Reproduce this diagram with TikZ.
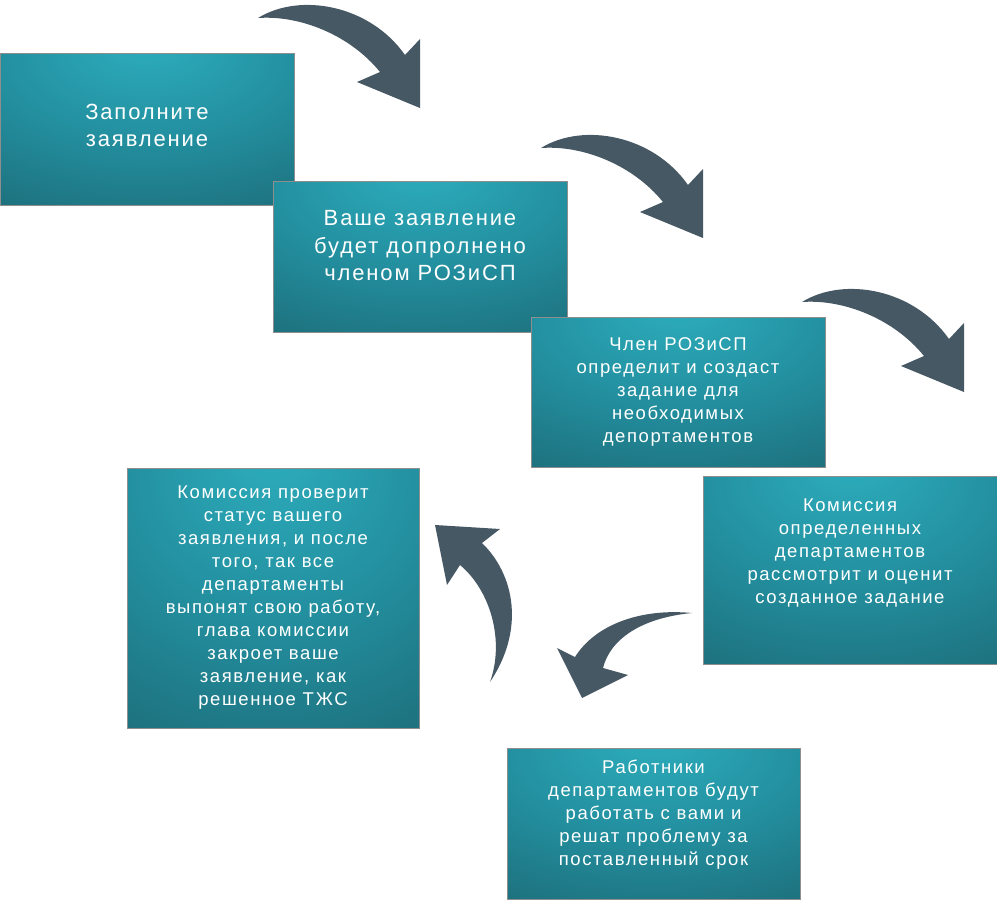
\documentclass[tikz,border=0pt]{standalone}
\usepackage{fontspec}
\setmainfont{Liberation Sans}[LetterSpace=8.5]
\usepackage{xcolor}
\usetikzlibrary{positioning}

\definecolor{boxlight}{HTML}{2DAEBD}
\definecolor{boxmid}{HTML}{2390A0}
\definecolor{boxdeep}{HTML}{1D6C78}
\definecolor{boxdark}{HTML}{175560}
\definecolor{boxedge}{HTML}{8E8E8E}
\definecolor{arrowgray}{HTML}{465864}

\pgfdeclareradialshading{boxshade}{\pgfpoint{0bp}{30bp}}{color(0bp)=(boxlight); color(25bp)=(boxmid); color(52bp)=(boxdeep); color(82bp)=(boxdark); color(100bp)=(boxdark)}

% invisible strut under the last line, raises the text in its box
\newcommand{\liftby}[1]{\rule[-#1]{0pt}{#1}}

\tikzset{
  stage/.style={draw=boxedge, line width=1pt, shading=boxshade, text=white, align=center,
    minimum width=294pt, minimum height=151pt, inner sep=0pt, outer sep=0pt},
  bigtext/.style={font=\fontsize{22}{27.5}\selectfont},
  smalltext/.style={font=\fontsize{18.5}{23}\selectfont},
  % curved arrow, tail at the origin
  turn arrow/.pic={
    \fill[arrowgray] (0,0) .. controls (42,-26) and (112,-13) .. (147,37)
      -- (162,21) -- (162,90) -- (99,64) -- (122,54)
      .. controls (92,17) and (42,-3) .. (0,0) -- cycle;
  },
  back arrow/.pic={
    \fill[arrowgray] (0,0) .. controls (-52,-5) and (-97,12) .. (-117,44)
      -- (-135,35) -- (-110,85) -- (-64,62) -- (-89,55)
      .. controls (-82,27) and (-52,5) .. (0,0) -- cycle;
  },
  rise arrow/.pic={
    \fill[arrowgray] (0,0) .. controls (35,-52) and (25,-107) .. (-8,-139)
      -- (10,-153) -- (-55,-157) -- (-43,-97) -- (-30,-117)
      .. controls (0,-92) and (15,-42) .. (0,0) -- cycle;
  },
}

\begin{document}
\begin{tikzpicture}[x=1pt, y=-1pt]
\useasboundingbox (0,0) rectangle (997,900);

\node[stage, bigtext, minimum height=152pt] (fill) at (147,129) {Заполните\\заявление\liftby{7pt}};
\node[stage, bigtext] (supplement) [below right=-24pt and -21pt of fill] {Ваше заявление\\будет допролнено\\членом РОЗиСП\liftby{22pt}};
\node[stage, smalltext, minimum height=150pt] (task) [below right=-15pt and -36pt of supplement] {Член РОЗиСП\\определит и создаст\\задание для\\необходимых\\депортаментов};
\node[stage, smalltext, minimum height=188pt] (review) [below right=9pt and -122pt of task] {Комиссия\\определенных\\департаментов\\рассмотрит и оценит\\созданное задание\liftby{38pt}};
\node[stage, smalltext, minimum width=293pt] (work) [below left=84pt and -97pt of review] {Работники\\департаментов будут\\работать с вами и\\решат проблему за\\поставленный срок\liftby{22pt}};
\node[stage, smalltext, minimum width=292pt, minimum height=260pt] (close) [above left=20pt and 88pt of work] {Комиссия проверит\\статус вашего\\заявления, и после\\того, так все\\департаменты\\выпонят свою работу,\\глава комиссии\\закроет ваше\\заявление, как\\решенное ТЖС};

\pic at (258,18) {turn arrow};
\pic at (541,148) {turn arrow};
\pic at (802,302) {turn arrow};
\pic at (692,613) {back arrow};
\pic at (490,682) {rise arrow};

\end{tikzpicture}
\end{document}
